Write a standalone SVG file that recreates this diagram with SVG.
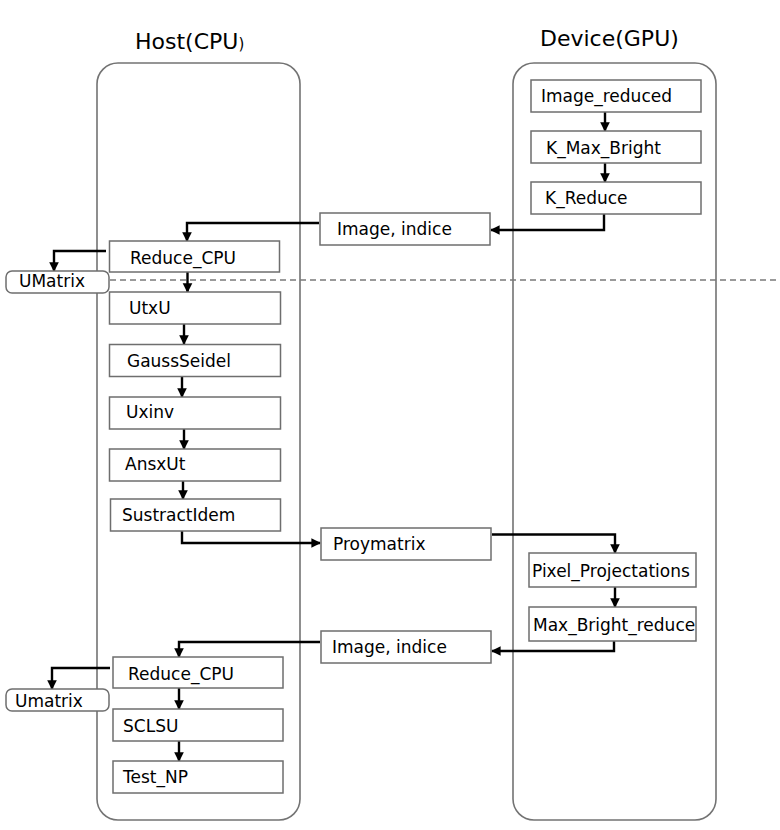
<svg xmlns="http://www.w3.org/2000/svg" width="780" height="830" viewBox="0 0 780 830">
  <style>
    .lane { fill: none; stroke: #737373; stroke-width: 1.6; }
    .box { fill: #ffffff; stroke: #6e6e6e; stroke-width: 1.5; }
    .tag { fill: #ffffff; stroke: #6e6e6e; stroke-width: 1.5; }
    .lbl { font-family: "DejaVu Sans", "Liberation Sans", sans-serif; font-size: 17px; fill: #000; }
    .title { font-family: "DejaVu Sans", "Liberation Sans", sans-serif; font-size: 22px; fill: #000; }
    .flow { fill: none; stroke: #000; stroke-width: 2.4; marker-end: url(#head); }
    .split { fill: none; stroke: #7a7a7a; stroke-width: 1.3; stroke-dasharray: 6 4; }
  </style>
  <defs>
    <marker id="head" viewBox="0 0 10 10" refX="9" refY="5" markerWidth="4" markerHeight="4.2" orient="auto" markerUnits="strokeWidth">
      <path d="M0,0 L10,5 L0,10 z" fill="#000"/>
    </marker>
  </defs>
  <rect width="780" height="830" fill="#ffffff"/>

  <!-- swimlanes -->
  <g id="lane-host">
    <rect class="lane" x="97" y="63" width="203" height="757" rx="21" ry="21"/>
    <text class="title" x="135" y="49">Host(CPU<tspan font-size="15">)</tspan></text>
  </g>
  <g id="lane-device">
    <rect class="lane" x="513" y="63" width="203" height="757" rx="21" ry="21"/>
    <text class="title" x="540" y="46">Device(GPU)</text>
  </g>

  <!-- phase separator -->
  <line class="split" x1="110" y1="280" x2="776" y2="280"/>

  <!-- connectors -->
  <g id="connectors">
    <path class="flow" d="M605,112 V131"/>
    <path class="flow" d="M605,163 V182"/>
    <path class="flow" d="M604,214 V230 H491"/>
    <path class="flow" d="M319,223 H187 V241"/>
    <path class="flow" d="M106,251 H54 V271"/>
    <path class="flow" d="M187.5,272 V292"/>
    <path class="flow" d="M184,324 V344"/>
    <path class="flow" d="M182,377 V397"/>
    <path class="flow" d="M184,429 V449"/>
    <path class="flow" d="M183,481 V499"/>
    <path class="flow" d="M182,531 V543 H320"/>
    <path class="flow" d="M492,534.5 H615 V553"/>
    <path class="flow" d="M615,587 V607"/>
    <path class="flow" d="M614,641 V651 H492"/>
    <path class="flow" d="M320,642 H179 V657"/>
    <path class="flow" d="M110,668 H52 V689"/>
    <path class="flow" d="M179,688 V709"/>
    <path class="flow" d="M179,741 V761"/>
  </g>

  <!-- device kernels -->
  <g id="image-reduced">
    <rect class="box" x="531" y="80" width="170" height="32"/>
    <text class="lbl" x="541" y="102">Image_reduced</text>
  </g>
  <g id="k-max-bright">
    <rect class="box" x="531" y="131" width="170" height="32"/>
    <text class="lbl" x="546" y="154">K_Max_Bright</text>
  </g>
  <g id="k-reduce">
    <rect class="box" x="531" y="182" width="170" height="32"/>
    <text class="lbl" x="545" y="204">K_Reduce</text>
  </g>
  <g id="pixel-projectations">
    <rect class="box" x="529" y="553" width="167" height="34"/>
    <text class="lbl" x="532" y="577">Pixel_Projectations</text>
  </g>
  <g id="max-bright-reduce">
    <rect class="box" x="529" y="607" width="167" height="34"/>
    <text class="lbl" x="533" y="631">Max_Bright_reduce</text>
  </g>

  <!-- transfers -->
  <g id="image-indice-1">
    <rect class="box" x="320" y="213" width="170" height="32"/>
    <text class="lbl" x="337" y="235">Image, indice</text>
  </g>
  <g id="proymatrix">
    <rect class="box" x="321" y="528" width="170" height="32"/>
    <text class="lbl" x="333" y="550">Proymatrix</text>
  </g>
  <g id="image-indice-2">
    <rect class="box" x="321" y="631" width="170" height="32"/>
    <text class="lbl" x="332" y="653">Image, indice</text>
  </g>

  <!-- host routines -->
  <g id="reduce-cpu-1">
    <rect class="box" x="109.5" y="241" width="170" height="31"/>
    <text class="lbl" x="130" y="264">Reduce_CPU</text>
  </g>
  <g id="umatrix-1">
    <rect class="tag" x="6" y="271" width="103" height="22" rx="6" ry="6"/>
    <text class="lbl" x="19" y="287">UMatrix</text>
  </g>
  <g id="utxu">
    <rect class="box" x="109.5" y="292" width="171" height="32"/>
    <text class="lbl" x="129" y="314">UtxU</text>
  </g>
  <g id="gaussseidel">
    <rect class="box" x="109.5" y="344.5" width="171" height="32"/>
    <text class="lbl" x="127" y="367">GaussSeidel</text>
  </g>
  <g id="uxinv">
    <rect class="box" x="109.5" y="397" width="171" height="32"/>
    <text class="lbl" x="126" y="418">Uxinv</text>
  </g>
  <g id="ansxut">
    <rect class="box" x="109.5" y="449" width="171" height="32"/>
    <text class="lbl" x="125" y="470">AnsxUt</text>
  </g>
  <g id="sustractidem">
    <rect class="box" x="110.5" y="499" width="170" height="32"/>
    <text class="lbl" x="122" y="521">SustractIdem</text>
  </g>
  <g id="reduce-cpu-2">
    <rect class="box" x="113" y="657" width="170" height="31"/>
    <text class="lbl" x="128" y="680">Reduce_CPU</text>
  </g>
  <g id="umatrix-2">
    <rect class="tag" x="6" y="689" width="103" height="22" rx="6" ry="6"/>
    <text class="lbl" x="15" y="707">Umatrix</text>
  </g>
  <g id="sclsu">
    <rect class="box" x="113" y="709" width="170" height="32"/>
    <text class="lbl" x="123" y="732">SCLSU</text>
  </g>
  <g id="test-np">
    <rect class="box" x="113" y="761" width="170" height="32"/>
    <text class="lbl" x="123" y="783">Test_NP</text>
  </g>
</svg>
